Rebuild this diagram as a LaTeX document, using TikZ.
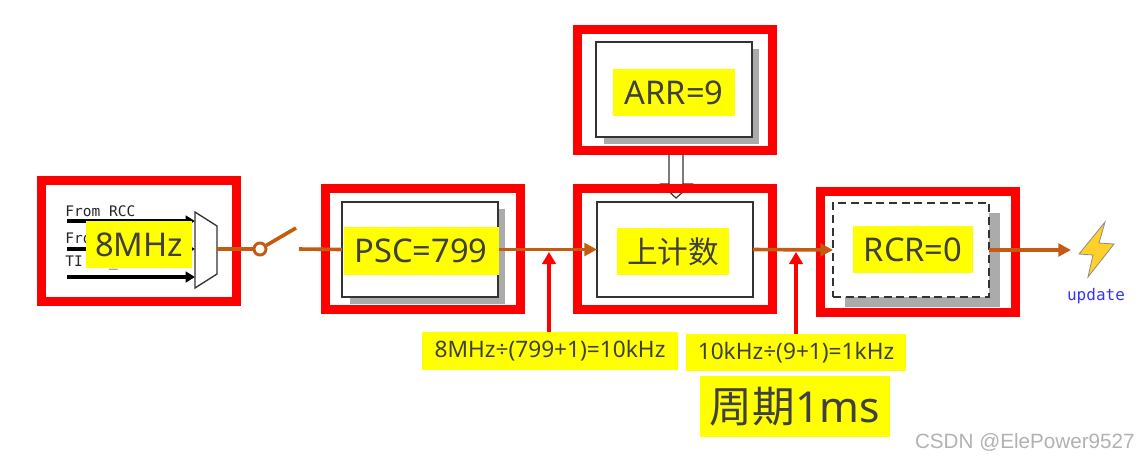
\documentclass[tikz,border=0pt]{standalone}
\usepackage{fontspec}
\usetikzlibrary{arrows.meta,shapes.geometric}
\newfontfamily\cjkf{Noto Sans CJK SC}
\newfontfamily\latf{Noto Sans}
\newfontfamily\monof{DejaVu Sans Mono}
\newfontfamily\arialf{Liberation Sans}
\definecolor{wire}{HTML}{C55A11}
\definecolor{inktext}{HTML}{404040}
\definecolor{shadowgray}{HTML}{ABABAB}
\definecolor{hiyellow}{HTML}{FFFF00}
\definecolor{boltfill}{HTML}{FFD028}
\tikzset{
  pxsize/.style 2 args={minimum width=#1*0.75pt,minimum height=#2*0.75pt,inner sep=0pt,outer sep=0pt},
  regbox/.style={draw=black!80,line width=1pt,fill=white,pxsize={156}{95}},
  dashbox/.style={draw=black!80,line width=1pt,fill=white,dash pattern=on 6pt off 3.5pt,pxsize={156}{94}},
  redframe/.style={draw=red,line width=6.75pt,pxsize={195}{121.5}},
  ylabel/.style={fill=hiyellow,text=inktext},
  big/.style={font=\latf\fontsize{24.5}{28}\selectfont},
  bigcjk/.style={font=\cjkf\fontsize{23}{28}\selectfont},
  mid/.style={font=\latf\fontsize{17}{19}\selectfont},
  wirearrow/.style={draw=wire,line width=2.7pt,-{Triangle[length=9.5pt,width=9.5pt]}},
  wireline/.style={draw=wire,line width=2.7pt},
  redarrow/.style={draw=red,line width=2.5pt,-{Triangle[length=9pt,width=10pt]}},
  blackarrow/.style={draw=black,line width=2.5pt,-{Triangle[length=7pt,width=8pt]}},
  monotext/.style={font=\monof\fontsize{10.9}{12}\selectfont,anchor=west,inner sep=0pt,text=black!85},
}
\begin{document}
\begin{tikzpicture}[x=0.75pt,y=-0.75pt]
\useasboundingbox (0,0) rectangle (1138,462);
\fill[white] (0,0) rectangle (1138,462);
% shadows
\node[fill=shadowgray,pxsize={155}{95}] (arrS) at (681.5,96.5) {};
\node[fill=shadowgray,pxsize={155}{95}] (pscS) at (427,256.5) {};
\node[fill=shadowgray,pxsize={155}{94}] (rcrS) at (922.5,260) {};
% boxes
\node[regbox] (arr) at (674,89.5) {};
\node[regbox] (psc) at (420,249.5) {};
\node[regbox] (cnt) at (675,249.5) {};
\node[dashbox] (rcr) at (911,250) {};
% clock inputs
\node[monotext] (t1) at (65,211) {From RCC};
\node[monotext] (t2) at (65,238) {Fro};
\node[monotext] (t3) at (65,263) {TI\ \ \ \_};
\coordinate (a1) at (67,221);
\coordinate (a2) at (67,249);
\coordinate (a3) at (67,277);
\coordinate (m1) at (195,221);
\coordinate (m2) at (195,249);
\coordinate (m3) at (195,277);
\draw[blackarrow] (a1) -- (m1);
\draw[blackarrow] (a2) -- (m2);
\draw[blackarrow] (a3) -- (m3);
% mux
\draw[black!80,line width=1pt,fill=white] (195,212) -- (217,226) -- (217,274) -- (195,288) -- cycle;
\coordinate (muxout) at (217,249);
% double arrow from ARR to counter
\draw[black!80,line width=0.9pt,fill=white] (669,155) -- (669,184) -- (661,184) -- (676,198) -- (692,184) -- (683,184) -- (683,155);
% red frames
\node[redframe] (fclk) at (139,241) {};
\node[redframe] (fpsc) at (423,249) {};
\node[redframe] (farr) at (674.5,90) {};
\node[redframe] (fcnt) at (674.5,249) {};
\node[redframe] (frcr) at (918,252) {};
% switch
\node[circle,draw=wire,line width=2.2pt,fill=white,minimum size=9pt,inner sep=0pt] (sw) at (260,249) {};
\coordinate (armend) at (296,228);
\coordinate (swout) at (299,249);
\draw[wireline] (muxout) -- (sw.west);
\draw[wireline] (sw.30) -- (armend);
\draw[wireline] (swout) -- (psc.west);
\draw[wirearrow] (psc.east) -- (cnt.west);
\draw[wirearrow] (cnt.east) -- (rcr.west);
\coordinate (bolt) at (1071,250);
\draw[wirearrow] (rcr.east) -- (bolt);
% lightning
\draw[fill=boltfill,draw=black!45,line width=0.6pt] (1105,222) -- (1079,254) -- (1093,255) -- (1088,277) -- (1114,244) -- (1099,243) -- cycle;
\node[font=\monof\fontsize{12}{14}\selectfont,text={rgb,255:red,51;green,51;blue,255},inner sep=0pt] (upd) at (1096,296) {update};
% yellow labels
\node[ylabel,big,pxsize={106}{47}] (l8) at (139,244.5) {8MHz};
\node[ylabel,big,pxsize={155}{48}] (lpsc) at (421,251) {PSC=799};
\node[ylabel,big,pxsize={122}{47}] (larr) at (674,92.5) {ARR=9};
\node[ylabel,bigcjk,pxsize={112}{47}] (lcnt) at (673,251.5) {上计数};
\node[ylabel,big,pxsize={120}{47}] (lrcr) at (913,249.5) {RCR=0};
\node[ylabel,mid,pxsize={256}{38}] (f1) at (550,351) {8MHz÷(799+1)=10kHz};
\node[ylabel,mid,pxsize={220}{37}] (f2) at (796,352.5) {10kHz÷(9+1)=1kHz};
\node[ylabel,font=\cjkf\fontsize{32}{36}\selectfont,pxsize={190}{61}] (f3) at (795,406.5) {周期{\latf 1ms}};
% red arrows
\coordinate (r1) at (549,252);
\coordinate (r2) at (796,252);
\draw[redarrow] (r1 |- f1.north) -- (r1);
\draw[redarrow] (r2 |- f2.north) -- (r2);
% watermark
\node[font=\arialf\fontsize{15.5}{18}\selectfont,text=black!30,anchor=east,inner sep=0pt] (wm) at (1135,442) {CSDN @ElePower9527};
\end{tikzpicture}
\end{document}
